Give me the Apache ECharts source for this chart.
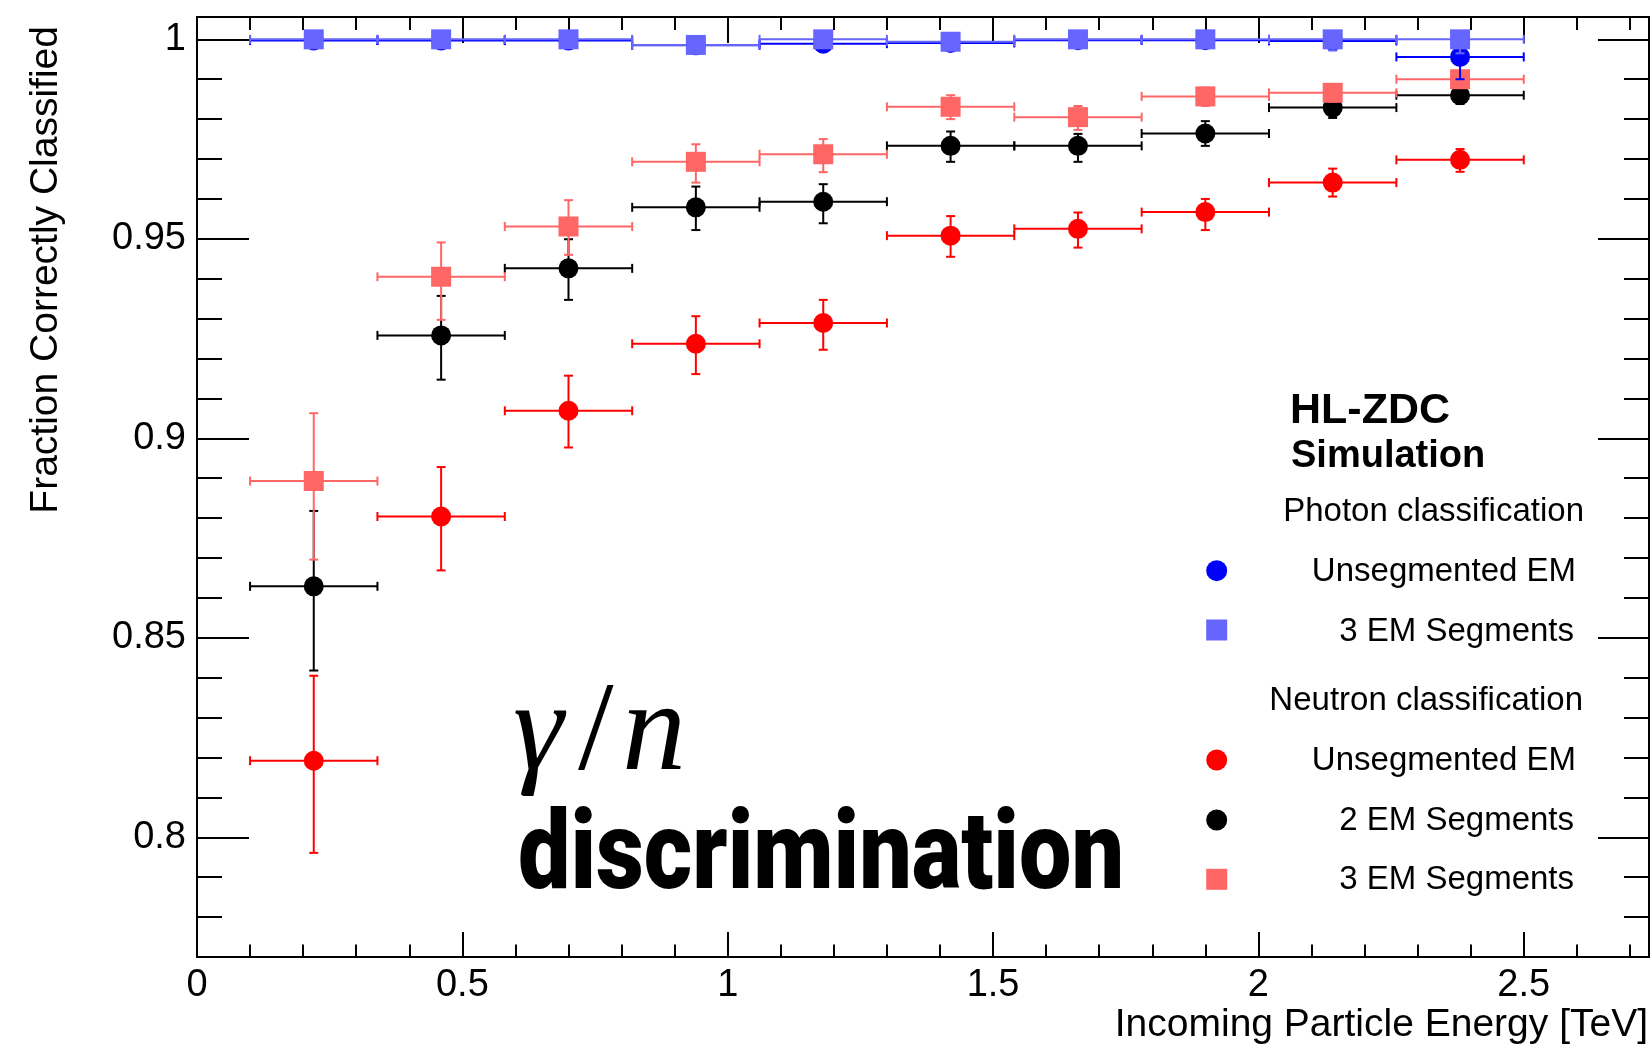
<!DOCTYPE html>
<html>
<head>
<meta charset="utf-8">
<title>HL-ZDC gamma/n discrimination</title>
<script src="https://cdn.jsdelivr.net/npm/echarts@6/dist/echarts.min.js"></script>
<style>
  html, body { margin: 0; padding: 0; background: #ffffff; }
  #chart { width: 1650px; height: 1046px; }
</style>
</head>
<body>
<div id="chart"></div>
<script>
// Energy bins (TeV): centres and half width
const binCenters = [0.22, 0.46, 0.70, 0.94, 1.18, 1.42, 1.66, 1.90, 2.14, 2.38];
const binHalfWidth = 0.12;

// Neutron classification (efficiency with lower/upper errors)
const neutronUnseg      = [0.8192, 0.8804, 0.9069, 0.9237, 0.9289, 0.9508, 0.9525, 0.9567, 0.9641, 0.9698];
const neutronUnsegErrLo = [0.0231, 0.0135, 0.0092, 0.0076, 0.0067, 0.0053, 0.0047, 0.0045, 0.0035, 0.0030];
const neutronUnsegErrHi = [0.0213, 0.0124, 0.0088, 0.0069, 0.0058, 0.0049, 0.0041, 0.0033, 0.0035, 0.0027];
const neutron2Seg       = [0.8629, 0.9258, 0.9426, 0.9579, 0.9593, 0.9733, 0.9733, 0.9764, 0.9829, 0.9860];
const neutron2SegErrLo  = [0.0211, 0.0111, 0.0079, 0.0057, 0.0054, 0.0040, 0.0040, 0.0031, 0.0026, 0.0022];
const neutron2SegErrHi  = [0.0189, 0.0099, 0.0073, 0.0052, 0.0044, 0.0036, 0.0030, 0.0031, 0.0024, 0.0020];
const neutron3Seg       = [0.8893, 0.9405, 0.9531, 0.9693, 0.9712, 0.9831, 0.9805, 0.9857, 0.9866, 0.9900];
const neutron3SegErrLo  = [0.0197, 0.0108, 0.0071, 0.0052, 0.0045, 0.0031, 0.0032, 0.0024, 0.0022, 0.0020];
const neutron3SegErrHi  = [0.0170, 0.0086, 0.0066, 0.0044, 0.0038, 0.0029, 0.0028, 0.0022, 0.0020, 0.0018];

// Photon classification
const photonUnseg      = [0.9997, 0.9997, 0.9997, 0.9985, 0.9989, 0.9991, 0.9998, 0.9998, 0.9996, 0.9956];
const photonUnsegErrLo = [0.0004, 0.0004, 0.0004, 0.0006, 0.0008, 0.0007, 0.0003, 0.0003, 0.0005, 0.0056];
const photonUnsegErrHi = [0.0002, 0.0002, 0.0002, 0.0005, 0.0006, 0.0005, 0.0002, 0.0002, 0.0003, 0.0025];
const photon3Seg       = [1.0000, 1.0000, 1.0000, 0.9986, 1.0000, 0.9994, 1.0000, 1.0000, 1.0000, 1.0000];
const photon3SegErrLo  = [0.0003, 0.0003, 0.0003, 0.0008, 0.0003, 0.0005, 0.0003, 0.0003, 0.0028, 0.0035];
const photon3SegErrHi  = [0.0000, 0.0000, 0.0000, 0.0006, 0.0000, 0.0004, 0.0000, 0.0000, 0.0000, 0.0000];

// Axis ranges and tick values
const xRange = [0, 2.736];
const yRange = [0.77, 1.0056];
const xMajorTicks = [0, 0.5, 1, 1.5, 2, 2.5];
const xMinorTicks = [0.1, 0.2, 0.3, 0.4, 0.6, 0.7, 0.8, 0.9, 1.1, 1.2, 1.3, 1.4, 1.6, 1.7, 1.8, 1.9,
                     2.1, 2.2, 2.3, 2.4, 2.6, 2.7];
const yMajorTicks = [0.8, 0.85, 0.9, 0.95, 1];
const yMinorTicks = [0.78, 0.79, 0.81, 0.82, 0.83, 0.84, 0.86, 0.87, 0.88, 0.89, 0.91, 0.92, 0.93, 0.94,
                     0.96, 0.97, 0.98, 0.99];

const SANS = 'Liberation Sans, Arial, Helvetica, sans-serif';
const SERIF = 'Liberation Serif, Times New Roman, serif';
const COLORS = { red: '#ff0000', black: '#000000', pink: '#ff6666', blue: '#0000ff', lightBlue: '#6666ff' };

function axis(position, range, ticks, tickLen, showLine, labelMargin) {
  const ax = {
    type: 'value', position: position, min: range[0], max: range[1],
    axisLine: { show: showLine, onZero: false, lineStyle: { color: '#000', width: 2 } },
    axisTick: { show: true, inside: true, length: tickLen, customValues: ticks,
                lineStyle: { color: '#000', width: 2 } },
    axisLabel: { show: false },
    minorTick: { show: false },
    splitLine: { show: false },
    axisPointer: { show: false }
  };
  if (labelMargin != null) {
    ax.axisLabel = { show: true, customValues: ticks, margin: labelMargin,
                     fontSize: 38, fontFamily: SANS, color: '#000' };
  }
  return ax;
}

// Error-bar graph: horizontal bin-width bar, vertical error bar with end caps, and the marker
function errorGraph(name, color, symbol, values, errLo, errHi) {
  return {
    type: 'custom', name: name, xAxisIndex: 0, yAxisIndex: 0,
    data: binCenters.map((x, i) => [x, values[i], binHalfWidth, errLo[i], errHi[i]]),
    encode: { x: 0, y: 1 },
    clip: false,
    renderItem: function (params, api) {
      const x = api.value(0), y = api.value(1), hw = api.value(2);
      const lo = api.value(3), hi = api.value(4);
      const c = api.coord([x, y]);
      const l = api.coord([x - hw, y]);
      const r = api.coord([x + hw, y]);
      const t = api.coord([x, y + hi]);
      const b = api.coord([x, y - lo]);
      const cap = 4.5;
      const ls = { stroke: color, lineWidth: 2 };
      const kids = [
        { type: 'line', shape: { x1: l[0], y1: c[1], x2: r[0], y2: c[1] }, style: ls },
        { type: 'line', shape: { x1: l[0], y1: c[1] - cap, x2: l[0], y2: c[1] + cap }, style: ls },
        { type: 'line', shape: { x1: r[0], y1: c[1] - cap, x2: r[0], y2: c[1] + cap }, style: ls }
      ];
      if (hi > 0) {
        kids.push({ type: 'line', shape: { x1: c[0], y1: c[1], x2: c[0], y2: t[1] }, style: ls });
        kids.push({ type: 'line', shape: { x1: c[0] - cap, y1: t[1], x2: c[0] + cap, y2: t[1] }, style: ls });
      }
      if (lo > 0) {
        kids.push({ type: 'line', shape: { x1: c[0], y1: c[1], x2: c[0], y2: b[1] }, style: ls });
        kids.push({ type: 'line', shape: { x1: c[0] - cap, y1: b[1], x2: c[0] + cap, y2: b[1] }, style: ls });
      }
      if (symbol === 'circle') {
        kids.push({ type: 'circle', shape: { cx: c[0], cy: c[1], r: 10 }, style: { fill: color } });
      } else {
        kids.push({ type: 'rect', shape: { x: c[0] - 10, y: c[1] - 10, width: 20, height: 20 },
                    style: { fill: color } });
      }
      return { type: 'group', children: kids };
    }
  };
}

function textWidth(str, font) {
  const ctx = document.createElement('canvas').getContext('2d');
  ctx.font = font;
  return ctx.measureText(str).width;
}

const discrFont = '900 110px Roboto';
const discrScale = 606 / textWidth('discrimination', discrFont);

function legendText(str, right, cy) {
  return { type: 'text', x: right, y: cy, silent: true,
           style: { text: str, fill: '#000', font: '33px ' + SANS, align: 'right', verticalAlign: 'middle' } };
}

function bigText(str, x, y, font) {
  return { type: 'text', x: x, y: y, silent: true,
           style: { text: str, fill: '#000', font: font, align: 'left', verticalAlign: 'middle' } };
}

const chart = echarts.init(document.getElementById('chart'), null, { renderer: 'canvas', width: 1650, height: 1046 });

chart.setOption({
  animation: false,
  backgroundColor: '#ffffff',
  grid: { left: 197, top: 17, right: 1, bottom: 89, containLabel: false },
  xAxis: [
    axis('bottom', xRange, xMajorTicks, 25, true, 10),
    axis('bottom', xRange, xMinorTicks, 12.5, false),
    axis('top', xRange, xMajorTicks, 26, true),
    axis('top', xRange, xMinorTicks, 13, false)
  ],
  yAxis: [
    axis('left', yRange, yMajorTicks, 52, true, 11),
    axis('left', yRange, yMinorTicks, 25, false),
    axis('right', yRange, yMajorTicks, 51, true),
    axis('right', yRange, yMinorTicks, 25, false)
  ],
  series: [
    errorGraph('Neutron: Unsegmented EM', COLORS.red, 'circle', neutronUnseg, neutronUnsegErrLo, neutronUnsegErrHi),
    errorGraph('Neutron: 2 EM Segments', COLORS.black, 'circle', neutron2Seg, neutron2SegErrLo, neutron2SegErrHi),
    errorGraph('Neutron: 3 EM Segments', COLORS.pink, 'rect', neutron3Seg, neutron3SegErrLo, neutron3SegErrHi),
    errorGraph('Photon: Unsegmented EM', COLORS.blue, 'circle', photonUnseg, photonUnsegErrLo, photonUnsegErrHi),
    errorGraph('Photon: 3 EM Segments', COLORS.lightBlue, 'rect', photon3Seg, photon3SegErrLo, photon3SegErrHi)
  ],
  graphic: [
    // axis titles
    { type: 'text', x: 1648, y: 1025, silent: true,
      style: { text: 'Incoming Particle Energy [TeV]', fill: '#000', font: '39px ' + SANS,
               align: 'right', verticalAlign: 'middle' } },
    { type: 'text', x: 46, y: 26, rotation: Math.PI / 2, silent: true,
      style: { text: 'Fraction Correctly Classified', fill: '#000', font: '39px ' + SANS,
               align: 'right', verticalAlign: 'middle' } },
    // in-plot label: gamma / n
    bigText('γ', 513, 735, 'italic 128px ' + SERIF),
    bigText('/', 578, 735, '128px ' + SERIF),
    bigText('n', 622, 735, 'italic 128px ' + SERIF),
    { type: 'text', x: 518, y: 860, scaleX: discrScale, silent: true,
      style: { text: 'discrimination', fill: '#000', font: discrFont,
               align: 'left', verticalAlign: 'middle' } },
    // experiment tag
    { type: 'text', x: 1290, y: 411, silent: true,
      style: { text: 'HL-ZDC', fill: '#000', font: 'bold 43px ' + SANS, align: 'left', verticalAlign: 'middle' } },
    { type: 'text', x: 1291, y: 457, silent: true,
      style: { text: 'Simulation', fill: '#000', font: 'bold 38px ' + SANS, align: 'left', verticalAlign: 'middle' } },
    // legend
    legendText('Photon classification', 1584, 512),
    { type: 'circle', silent: true, shape: { cx: 1216.7, cy: 570.7, r: 10.5 }, style: { fill: COLORS.blue } },
    legendText('Unsegmented EM', 1576, 572),
    { type: 'rect', silent: true, shape: { x: 1206.2, y: 619.5, width: 21, height: 21 }, style: { fill: COLORS.lightBlue } },
    legendText('3 EM Segments', 1574, 632),
    legendText('Neutron classification', 1583, 701),
    { type: 'circle', silent: true, shape: { cx: 1216.7, cy: 760, r: 10.5 }, style: { fill: COLORS.red } },
    legendText('Unsegmented EM', 1576, 761),
    { type: 'circle', silent: true, shape: { cx: 1216.7, cy: 820, r: 10.5 }, style: { fill: COLORS.black } },
    legendText('2 EM Segments', 1574, 821),
    { type: 'rect', silent: true, shape: { x: 1206.2, y: 868.8, width: 21, height: 21 }, style: { fill: COLORS.pink } },
    legendText('3 EM Segments', 1574, 880)
  ]
});
</script>
</body>
</html>
